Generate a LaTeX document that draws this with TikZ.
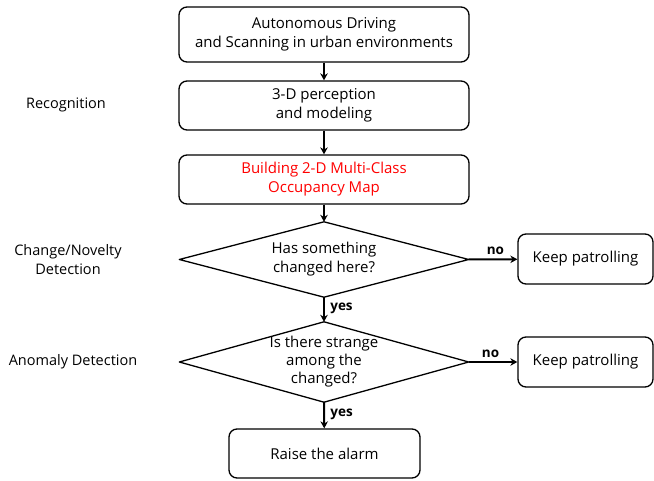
\documentclass[tikz,border=0pt]{standalone}
\usepackage{fontspec}
\setmainfont{Open Sans}
\usetikzlibrary{arrows.meta}
\begin{document}
\begin{tikzpicture}[x=1pt,y=-1pt,
  every node/.style={font=\fontsize{15}{19}\selectfont, align=center},
  procbox/.style={draw, line width=1.3pt, rounded corners=8pt, minimum width=#1, minimum height=49pt, inner sep=0pt},
  procbox/.default=290pt,
  decisionarea/.style={minimum width=289pt, minimum height=#1, inner sep=0pt},
  decisionline/.style={line width=1.3pt, line join=round},
  flow/.style={line width=2pt, -{Stealth[length=7pt,width=7.5pt]}},
  branch/.style={font=\fontsize{13.5}{16}\selectfont\bfseries},
  stage/.style={font=\fontsize{14.5}{19}\selectfont}
]
\useasboundingbox (0,0) rectangle (654,481);

% main chain of processing steps
\node[procbox, minimum height=55pt] (drive) at (324,34.5) {Autonomous Driving\\and Scanning in urban environments};
\node[procbox] (percep) at (324,105.5) {3-D perception\\and modeling};
\node[procbox, text=red] (map) at (324,179.5) {Building 2-D Multi-Class\\Occupancy Map};

% decisions
\node[decisionarea=75pt] (chg) at (324,259.5) {Has something\\changed here?};
\draw[decisionline] (chg.west) -- (chg.north) -- (chg.east) -- (chg.south) -- cycle;
\node[decisionarea=80pt, font=\fontsize{15}{18}\selectfont] (anom) at (324,362) {Is there strange\\among the\\changed?};
\draw[decisionline] (anom.west) -- (anom.north) -- (anom.east) -- (anom.south) -- cycle;

% outcomes
\node[procbox=135pt, minimum height=50pt] (keep1) at (585.5,259) {Keep patrolling};
\node[procbox=135pt, minimum height=50pt] (keep2) at (585.5,362) {Keep patrolling};
\node[procbox=191pt] (alarm) at (324.5,453.5) {Raise the alarm};

% stage labels
\node[stage] (recog) at (66,105) {Recognition};
\node[stage] (novel) at (68,260) {Change/Novelty\\Detection};
\node[stage] (anomlbl) at (73,362) {Anomaly Detection};

% connectors
\draw[flow] (drive) -- (percep);
\draw[flow] (percep) -- (map);
\draw[flow] (map) -- (chg.north);
\draw[flow] (chg.south) -- node[branch, right, pos=0.45, xshift=2pt] {yes} (anom.north);
\draw[flow] (anom.south) -- node[branch, right, pos=0.45, xshift=2pt] {yes} (alarm);
\draw[flow] (chg.east) -- node[branch, above, pos=0.55] {no} (keep1);
\draw[flow] (anom.east) -- node[branch, above, pos=0.45] {no} (keep2);
\end{tikzpicture}
\end{document}
